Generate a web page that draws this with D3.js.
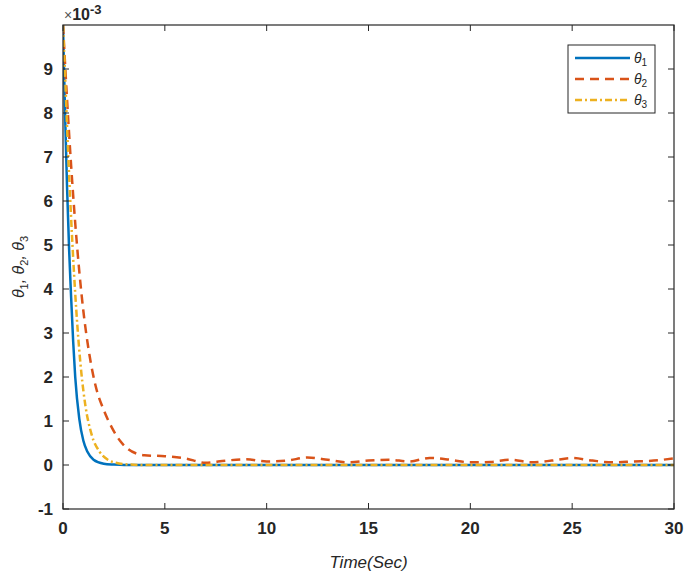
<!DOCTYPE html>
<html><head><meta charset="utf-8">
<script src="https://cdn.jsdelivr.net/npm/d3@7"></script>
<style>body{margin:0;background:#fff}text{font-family:Arial,Helvetica,sans-serif}</style>
</head><body><svg id="chart" width="685" height="576"></svg>
<script>
const time1 = [0, 0.1, 0.2, 0.3, 0.4, 0.5, 0.6, 0.8, 1.0, 1.2, 1.5, 2.0, 2.5, 3, 4, 6, 10, 15, 20, 25, 30];
const theta1 = [10, 8.0, 6.3, 4.9, 3.8, 2.8, 2.0, 1.05, 0.55, 0.3, 0.12, 0.03, 0.01, 0, 0, 0, 0, 0, 0, 0, 0];
const time3 = [0, 0.1, 0.2, 0.3, 0.4, 0.5, 0.7, 0.9, 1.1, 1.4, 1.8, 2.2, 2.6, 3, 4, 6, 10, 15, 20, 25, 30];
const theta3 = [10, 8.9, 7.7, 6.6, 5.6, 4.7, 3.2, 2.1, 1.35, 0.7, 0.3, 0.12, 0.05, 0.02, 0, 0, 0, 0, 0, 0, 0];
const time2 = [0, 0.2, 0.4, 0.6, 0.8, 1.0, 1.3, 1.6, 2.0, 2.4, 2.8, 3.2, 3.6, 4.0, 5.0, 6.0, 7.0, 8.0, 9.0, 10.0, 11.0, 12.0, 13.0, 14.0, 15.0, 16.0, 17.0, 18.0, 19.0, 20.0, 21.0, 22.0, 23.0, 24.0, 25.0, 26.0, 27.0, 28.0, 29.0, 30.0];
const theta2 = [10, 8.3, 6.8, 5.5, 4.4, 3.5, 2.5, 1.8, 1.25, 0.85, 0.55, 0.36, 0.26, 0.22, 0.2, 0.15, 0.05, 0.1, 0.13, 0.08, 0.1, 0.17, 0.12, 0.06, 0.1, 0.12, 0.08, 0.16, 0.12, 0.06, 0.07, 0.12, 0.06, 0.1, 0.16, 0.1, 0.06, 0.08, 0.1, 0.15];
const xTicks = [0, 5, 10, 15, 20, 25, 30];
const yTicks = [-1, 0, 1, 2, 3, 4, 5, 6, 7, 8, 9];

const svg = d3.select("#chart");
const L = 63, R = 674, T = 25, B = 509;
const x = d3.scaleLinear().domain([0, 30]).range([L, R]);
const y = d3.scaleLinear().domain([-1, 10]).range([B, T]);

const clip = svg.append("clipPath").attr("id", "c").append("rect")
    .attr("x", L).attr("y", T).attr("width", R - L).attr("height", B - T);

const line = d3.line().x(d => x(d[0])).y(d => y(d[1])).curve(d3.curveMonotoneX);
const series = [
    {t: time1, v: theta1, color: "#0072bd", dash: null, label: "1"},
    {t: time2, v: theta2, color: "#d95319", dash: "9,6", label: "2"},
    {t: time3, v: theta3, color: "#edb120", dash: "7,3,2,3", label: "3"}
];
const g = svg.append("g").attr("clip-path", "url(#c)");
series.forEach(s => {
    g.append("path").datum(d3.zip(s.t, s.v)).attr("d", line)
        .attr("fill", "none").attr("stroke", s.color).attr("stroke-width", 2.5)
        .attr("stroke-dasharray", s.dash);
});

// box + ticks
svg.append("rect").attr("x", L).attr("y", T).attr("width", R - L).attr("height", B - T)
    .attr("fill", "none").attr("stroke", "#262626").attr("stroke-width", 1.2);
xTicks.forEach(v => {
    svg.append("line").attr("x1", x(v)).attr("x2", x(v)).attr("y1", B).attr("y2", B - 6).attr("stroke", "#262626");
    svg.append("line").attr("x1", x(v)).attr("x2", x(v)).attr("y1", T).attr("y2", T + 6).attr("stroke", "#262626");
    svg.append("text").attr("x", x(v)).attr("y", B + 25).attr("text-anchor", "middle")
        .attr("font-size", 17).attr("font-weight", "bold").attr("fill", "#262626").text(v);
});
yTicks.forEach(v => {
    svg.append("line").attr("x1", L).attr("x2", L + 6).attr("y1", y(v)).attr("y2", y(v)).attr("stroke", "#262626");
    svg.append("line").attr("x1", R).attr("x2", R - 6).attr("y1", y(v)).attr("y2", y(v)).attr("stroke", "#262626");
    svg.append("text").attr("x", L - 10).attr("y", y(v) + 6).attr("text-anchor", "end")
        .attr("font-size", 17).attr("font-weight", "bold").attr("fill", "#262626").text(v);
});
const exp = svg.append("text").attr("x", 64).attr("y", 20).attr("font-size", 16).attr("fill", "#262626");
exp.append("tspan").attr("fill", "#555").attr("font-size", 14).text("\u00d7");
exp.append("tspan").attr("font-weight", "bold").text("10");
exp.append("tspan").attr("font-weight", "bold").attr("dy", -6).attr("font-size", 13).text("-3");

// axis labels
svg.append("text").attr("x", (L + R) / 2).attr("y", 568).attr("text-anchor", "middle")
    .attr("font-family", "DejaVu Serif").attr("font-style", "italic").attr("font-size", 17).attr("fill", "#262626")
    .text("Time(Sec)");
const yl = svg.append("text").attr("transform", `translate(24,${(T + B) / 2}) rotate(-90)`)
    .attr("text-anchor", "middle").attr("font-family", "DejaVu Serif").attr("font-size", 16).attr("fill", "#262626");
["1", "2", "3"].forEach((n, i) => {
    yl.append("tspan").attr("font-style", "italic").attr("dy", i ? -4 : 0).text((i ? ", " : "") + "\u03b8");
    yl.append("tspan").attr("font-size", 11).attr("dy", 4).text(n);
});

// legend
const lg = svg.append("g");
lg.append("rect").attr("x", 568).attr("y", 45).attr("width", 87).attr("height", 68)
    .attr("fill", "#fff").attr("stroke", "#262626");
series.forEach((s, i) => {
    const yy = 58 + i * 21;
    lg.append("line").attr("x1", 575).attr("x2", 630).attr("y1", yy).attr("y2", yy)
        .attr("stroke", s.color).attr("stroke-width", 2.5).attr("stroke-dasharray", s.dash);
    const t = lg.append("text").attr("x", 634).attr("y", yy + 5).attr("font-family", "DejaVu Serif")
        .attr("font-size", 14).attr("fill", "#262626");
    t.append("tspan").attr("font-style", "italic").text("\u03b8");
    t.append("tspan").attr("font-size", 10).attr("dy", 3).text(s.label);
});
</script></body></html>
